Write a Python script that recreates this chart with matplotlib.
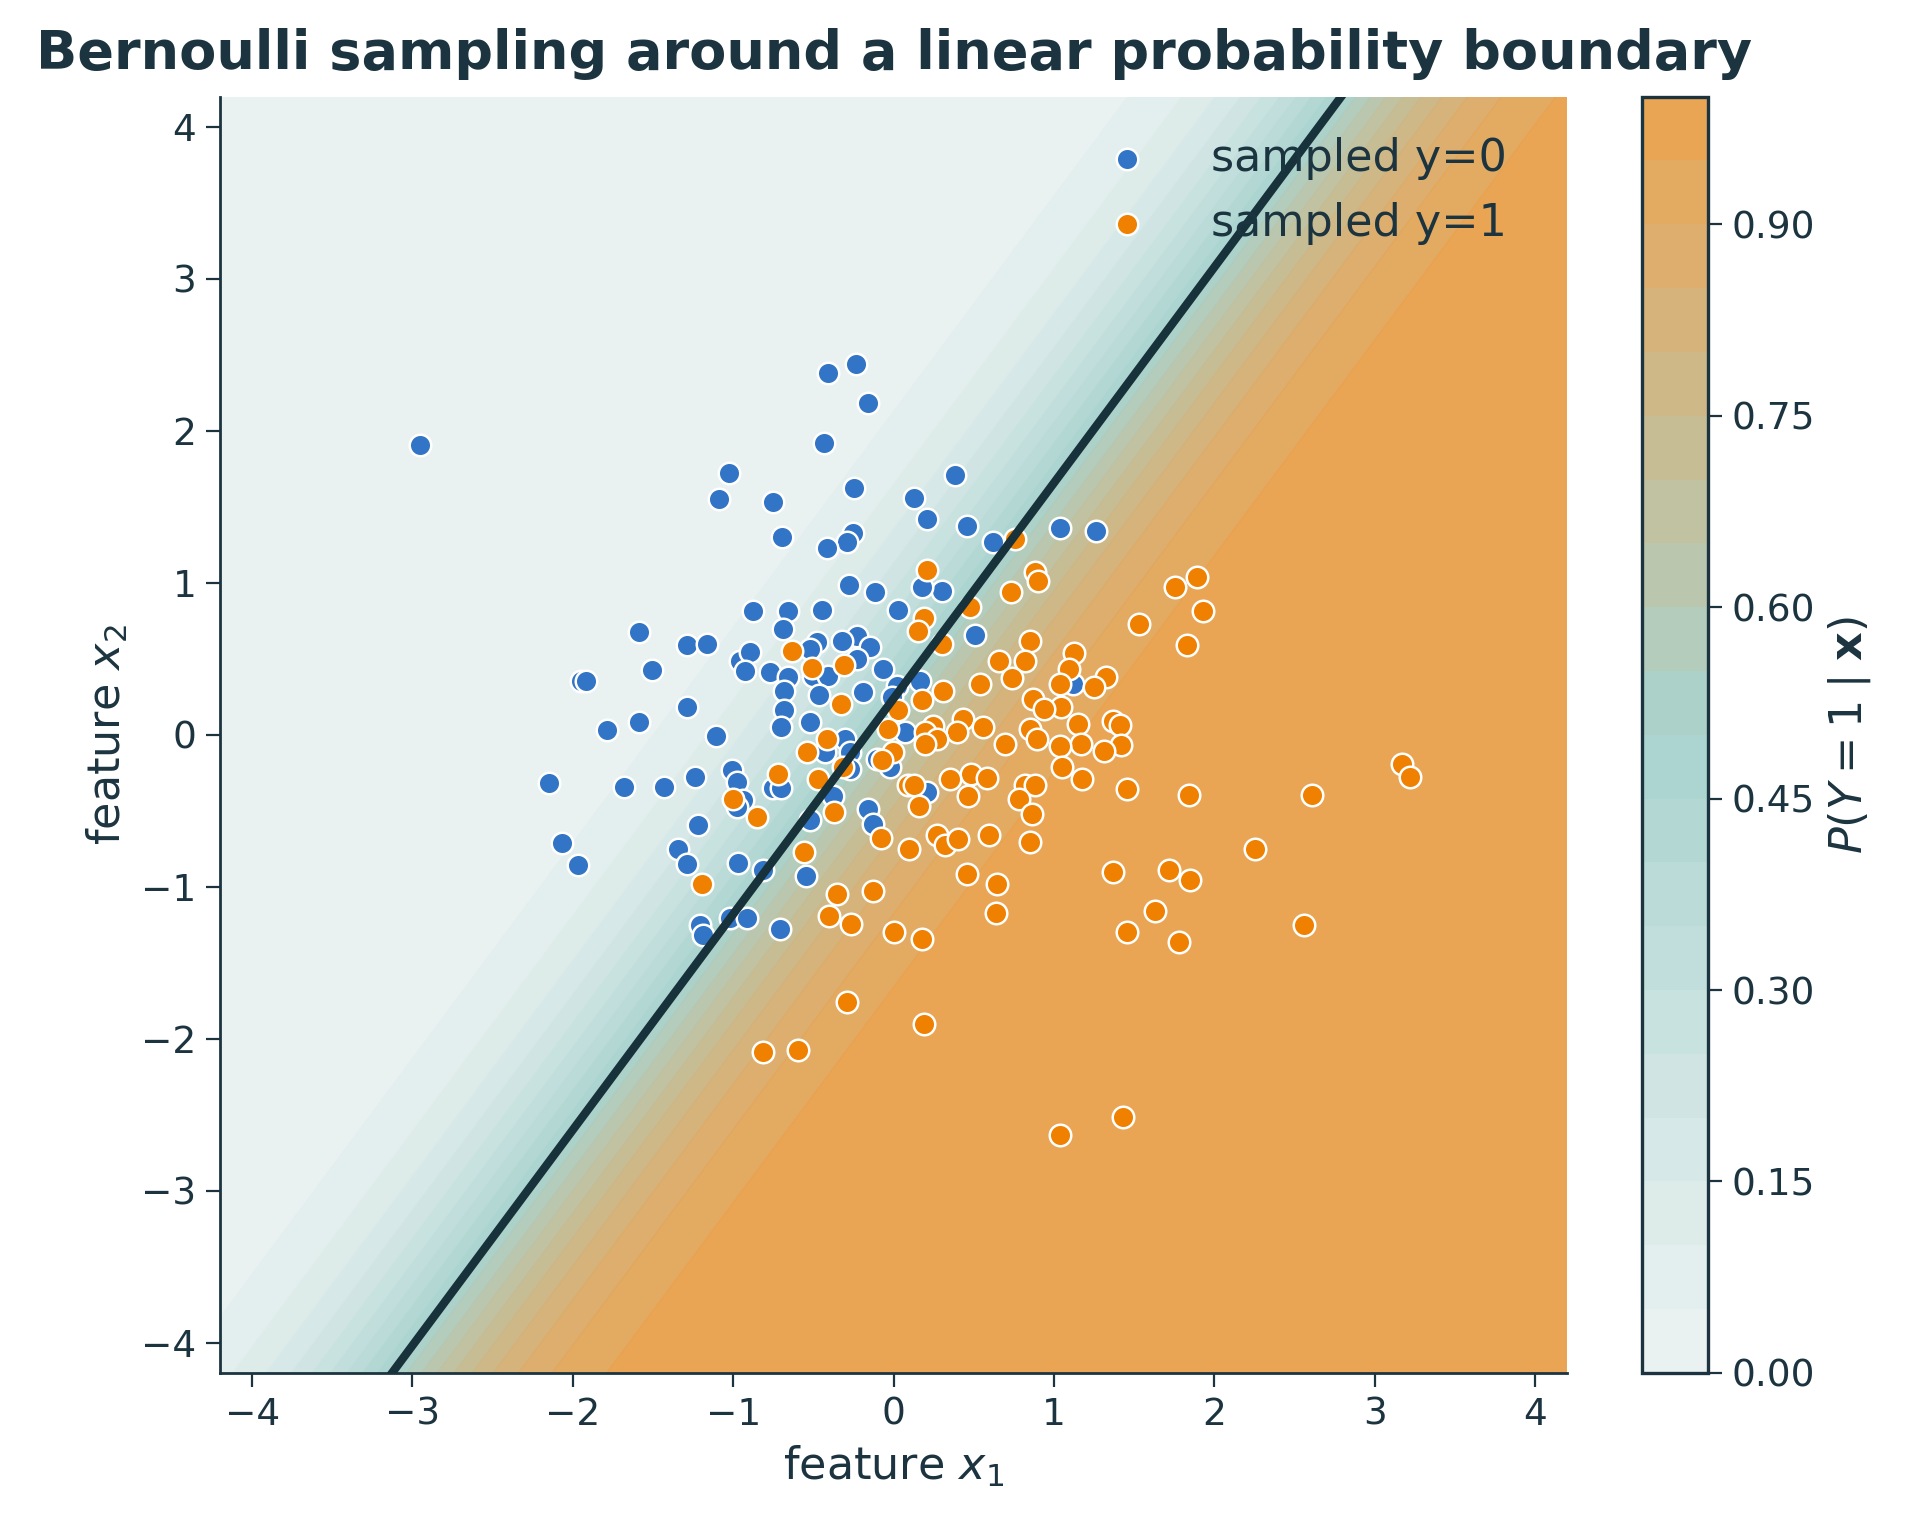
import numpy as np
import matplotlib.pyplot as plt
from matplotlib.colors import LinearSegmentedColormap

plt.rcParams['font.family'] = ['DejaVu Sans']
ink = "#1c3440"

# logistic model behind the shaded field
w1, w2, b = 2.2, -1.55, 0.37

# sampled points with y=0
x1_neg = [-0.235, -0.407, -0.158, -2.95, -0.432, -1.025, 0.383, -0.247, -1.087, -0.75,
          0.127, 0.21, 0.46, 1.038, 1.263, -0.255, -0.293, -0.698, -0.413, 0.622,
          -0.276, -0.116, 0.304, 0.175, 0.029, -0.875, -0.657, -0.445, -0.692, -1.588,
          -0.23, -0.324, 0.51, -1.287, -1.162, -0.48, -0.147, -0.958, -0.896, -0.23,
          -0.52, -0.927, -0.771, -0.657, -0.5, -0.407, -0.064, -1.505, -1.95, -1.921,
          0.165, 0.019, -0.684, -0.189, -0.012, -0.465, -1.287, -0.684, -1.588, -0.52,
          -0.702, -1.786, -1.108, 0.071, -0.428, -0.303, -0.272, -0.105, -0.022, -0.272,
          -1.01, -0.979, -1.239, -0.75, -0.70, -2.15, -1.682, -1.43, -0.376, -0.938,
          -0.979, 0.206, -0.158, -0.127, -0.522, -1.218, -2.07, -1.343, -1.287, -1.97,
          -0.969, -0.813, -0.546, -1.021, -0.917, -1.208, -1.187, -0.709, 1.12]
x2_neg = [2.438, 2.378, 2.181, 1.905, 1.923, 1.726, 1.708, 1.627, 1.555, 1.529,
          1.561, 1.419, 1.371, 1.364, 1.338, 1.327, 1.266, 1.305, 1.227, 1.266,
          0.986, 0.937, 0.944, 0.97, 0.823, 0.817, 0.817, 0.823, 0.696, 0.675,
          0.652, 0.62, 0.66, 0.591, 0.596, 0.609, 0.576, 0.488, 0.543, 0.499,
          0.565, 0.422, 0.416, 0.379, 0.39, 0.39, 0.434, 0.427, 0.357, 0.357,
          0.357, 0.324, 0.291, 0.28, 0.248, 0.263, 0.182, 0.16, 0.083, 0.083,
          0.05, 0.033, -0.007, 0.018, -0.114, -0.026, -0.114, -0.158, -0.212, -0.223,
          -0.235, -0.311, -0.278, -0.35, -0.35, -0.32, -0.344, -0.344, -0.4, -0.431,
          -0.475, -0.377, -0.486, -0.585, -0.563, -0.591, -0.71, -0.749, -0.848, -0.855,
          -0.841, -0.891, -0.928, -1.209, -1.209, -1.253, -1.319, -1.279, 0.332]

# sampled points with y=1
x1_pos = [0.757, 0.206, 0.882, 0.903, 1.891, 1.755, 0.732, 0.477, 1.932, 0.192,
          0.154, 1.533, 0.3, 0.849, 1.832, -0.632, 1.127, 0.659, 0.82, -0.507,
          -0.307, 1.096, 0.737, 1.325, 0.539, 1.038, 1.25, 0.31, 0.872, 0.175,
          -0.328, 1.042, 0.938, 0.029, 0.435, 1.371, 1.152, 1.412, 0.56, 0.851,
          -0.033, 0.393, 0.248, 0.196, 0.269, 0.196, 0.896, 0.695, 1.167, 1.038,
          1.417, 1.313, -0.417, -0.538, -0.002, -0.074, 1.049, -0.314, 0.481, 0.585,
          1.177, -0.47, 0.352, 0.82, 0.882, 0.092, 0.125, 1.454, 0.466, 0.784,
          1.843, 2.61, 3.17, 3.22, -1.0, -0.37, 0.158, 0.861, -0.854, -0.719,
          0.269, 0.597, 0.321, 0.404, 0.851, -0.081, 0.098, -0.559, 2.256, 0.456,
          1.371, 1.72, 1.85, -1.193, 0.647, -0.351, -0.127, 1.631, -0.401, 0.639,
          -0.268, 2.56, 0.005, 1.458, 0.175, 1.78, -0.289, 0.19, -0.814, -0.598,
          1.43, 1.036]
x2_pos = [1.288, 1.086, 1.069, 1.014, 1.036, 0.97, 0.937, 0.839, 0.817, 0.769,
          0.681, 0.729, 0.598, 0.62, 0.591, 0.554, 0.539, 0.488, 0.488, 0.44,
          0.462, 0.434, 0.372, 0.379, 0.335, 0.335, 0.313, 0.291, 0.236, 0.226,
          0.204, 0.182, 0.171, 0.166, 0.105, 0.094, 0.072, 0.066, 0.05, 0.039,
          0.039, 0.018, 0.061, 0.018, -0.026, -0.059, -0.026, -0.059, -0.059, -0.074,
          -0.07, -0.11, -0.026, -0.114, -0.114, -0.169, -0.212, -0.212, -0.256, -0.285,
          -0.289, -0.289, -0.289, -0.333, -0.333, -0.333, -0.33, -0.355, -0.403, -0.42,
          -0.395, -0.395, -0.195, -0.275, -0.42, -0.508, -0.469, -0.519, -0.541, -0.256,
          -0.661, -0.657, -0.727, -0.683, -0.705, -0.677, -0.749, -0.771, -0.755, -0.913,
          -0.902, -0.89, -0.955, -0.979, -0.984, -1.045, -1.027, -1.159, -1.191, -1.171,
          -1.248, -1.255, -1.297, -1.297, -1.347, -1.365, -1.761, -1.905, -2.085, -2.075,
          -2.515, -2.635]

lim = 4.2
prob_levels = np.linspace(0, 1, 21)
cbar_ticks = [0.00, 0.15, 0.30, 0.45, 0.60, 0.75, 0.90]

cmap = LinearSegmentedColormap.from_list(
    "prob", [(0.0, "#ebf1f1"), (0.5, "#9accc7"), (1.0, "#ea922f")])

fig = plt.figure(figsize=(9.65, 7.67), dpi=200)
ax = fig.add_axes([0.114, 0.105, 0.698, 0.832])
cax = fig.add_axes([0.851, 0.105, 0.034, 0.832])

g = np.linspace(-lim, lim, 500)
G1, G2 = np.meshgrid(g, g)
P = 1.0 / (1.0 + np.exp(-(w1 * G1 + w2 * G2 + b)))
cs = ax.contourf(G1, G2, P, levels=prob_levels, cmap=cmap, alpha=0.85,
                 antialiased=True, zorder=0)
# faint seams between the bands
ax.contour(G1, G2, P, levels=prob_levels[1:-1], cmap=cmap, linewidths=0.35,
           alpha=0.6, zorder=1)

ax.scatter(x1_neg, x2_neg, s=60, color="#3274c5", edgecolor="white",
           linewidth=0.9, label="sampled y=0", zorder=3)
ax.scatter(x1_pos, x2_pos, s=60, color="#f08000", edgecolor="white",
           linewidth=0.9, label="sampled y=1", zorder=3)

# decision boundary P = 0.5
xb = np.array([-lim, lim])
ax.plot(xb, -(w1 * xb + b) / w2, color="#17323a", lw=3.0, zorder=4)

ax.set_xlim(-lim, lim)
ax.set_ylim(-lim, lim)
ax.set_xticks(range(-4, 5))
ax.set_yticks(range(-4, 5))
for s in ["top", "right"]:
    ax.spines[s].set_visible(False)
for s in ["left", "bottom"]:
    ax.spines[s].set_color(ink)
    ax.spines[s].set_linewidth(1.0)
ax.tick_params(colors=ink, labelsize=13.5, length=5)
ax.set_xlabel("feature $x_1$", fontsize=16, color=ink)
ax.set_ylabel("feature $x_2$", fontsize=16, color=ink)
ax.set_title("Bernoulli sampling around a linear probability boundary",
             fontsize=19.5, fontweight="bold", color=ink, pad=10)

leg = ax.legend(loc="upper right", bbox_to_anchor=(0.985, 1.0), frameon=False,
                fontsize=16, handletextpad=0.9)
for t in leg.get_texts():
    t.set_color(ink)

cb = fig.colorbar(cs, cax=cax, ticks=cbar_ticks, format="%.2f")
cb.outline.set_edgecolor(ink)
cb.outline.set_linewidth(1.2)
cb.ax.tick_params(colors=ink, labelsize=13.5, length=5)
cb.set_label(r"$P(Y=1\mid\mathbf{x})$", fontsize=16, color=ink)

fig.savefig("out.png", dpi=200)
